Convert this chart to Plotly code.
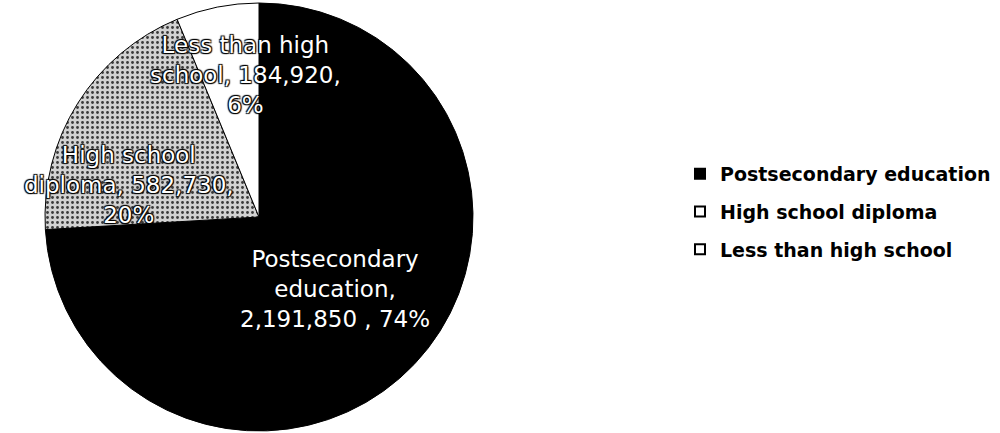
import plotly.graph_objects as go

categories = ["Postsecondary education", "High school diploma", "Less than high school"]
label_lines = [["Postsecondary", "education,"], ["High school", "diploma,"], ["Less than high", "school,"]]
values = [2191850, 582730, 184920]
colors = ["#000000", "#c4c4c4", "#ffffff"]

total = sum(values)

cx, cy, r = 259, 217, 214

fig = go.Figure()
fig.add_trace(go.Pie(
    labels=categories,
    values=values,
    sort=False,
    direction="clockwise",
    rotation=0,
    textinfo="none",
    hoverinfo="label+value+percent",
    marker=dict(
        colors=colors,
        line=dict(color="#000000", width=1),
        pattern=dict(shape=["", ".", ""], fgcolor="#3a3a3a", bgcolor="#d2d2d2", size=5, solidity=0.25),
    ),
    domain=dict(x=[(cx - r) / 1000, (cx + r) / 1000], y=[1 - (cy + r) / 433, 1 - (cy - r) / 433]),
    showlegend=False,
))

# legend entries (one per category, drawn as empty marker traces so spacing can be controlled)
legend_fill = ["#000000", "#ffffff", "#ffffff"]
for i, cat in enumerate(categories):
    fig.add_trace(go.Scatter(
        x=[None], y=[None], mode="markers", name=cat,
        legendgroup=f"g{i}",
        marker=dict(symbol="square", size=10, color=legend_fill[i],
                    line=dict(color="#000000", width=2)),
    ))

# data labels (text built from data)
label_pos = [(335, 289), (129, 185), (245, 75)]
for i, (cat, v) in enumerate(zip(categories, values)):
    pct = round(100 * v / total)
    if i == 0:
        txt = f"{label_lines[i][0]}<br>{label_lines[i][1]}<br>{v:,} , {pct}%"
    else:
        txt = f"{label_lines[i][0]}<br>{label_lines[i][1]} {v:,},<br>{pct}%"
    fig.add_annotation(
        x=label_pos[i][0] / 1000, y=1 - label_pos[i][1] / 433, xref="paper", yref="paper",
        xanchor="center", yanchor="middle",
        text=txt, showarrow=False, align="center",
        font=dict(family="DejaVu Sans", size=23, color="white",
                  shadow="none" if i == 0 else "1px 1px 1px #000, -1px -1px 1px #000, 1px -1px 1px #000, -1px 1px 1px #000"),
    )

fig.update_layout(
    width=1000, height=433,
    margin=dict(l=0, r=0, t=0, b=0),
    paper_bgcolor="white",
    plot_bgcolor="white",
    xaxis=dict(visible=False),
    yaxis=dict(visible=False),
    legend=dict(
        x=0.68, y=1 - 155 / 433, xanchor="left", yanchor="top",
        font=dict(family="DejaVu Sans", size=19, color="#000000", weight="bold"),
        itemwidth=30,
        tracegroupgap=10,
        bgcolor="rgba(0,0,0,0)",
    ),
)

fig.write_html("out.html", post_script="document.body.style.margin='0';",
               config={"displayModeBar": False})
